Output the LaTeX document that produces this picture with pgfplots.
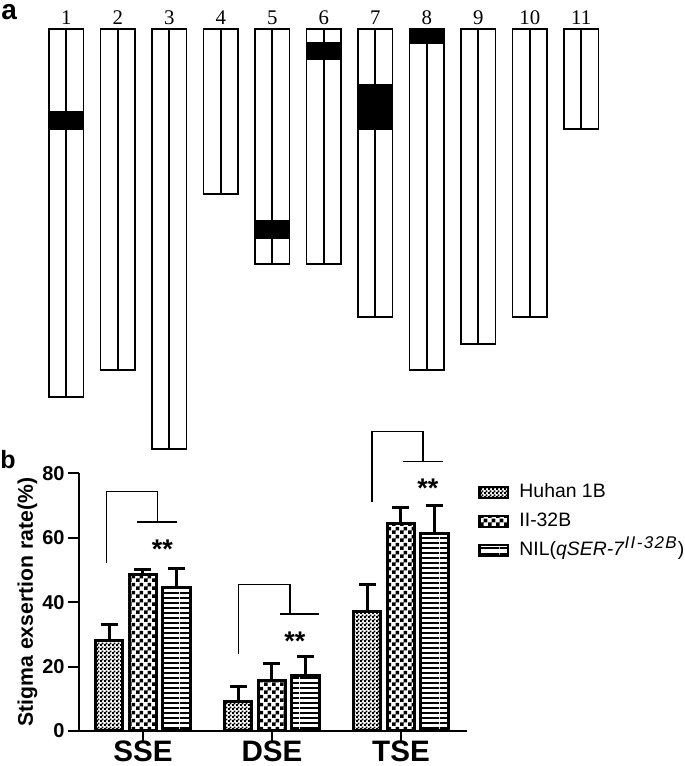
\documentclass[border=0pt]{standalone}
\usepackage{pgfplots}
\pgfplotsset{compat=1.18}
\usepackage{fontspec}
\setmainfont{Liberation Sans}
\newfontfamily\numfont{Liberation Serif}
\usetikzlibrary{patterns}

% bar fills
\pgfdeclarepatternformonly{finecheck}{\pgfpointorigin}{\pgfpoint{2pt}{2pt}}{\pgfpoint{2pt}{2pt}}{%
  \pgfpathrectangle{\pgfpointorigin}{\pgfpoint{1.1pt}{1.1pt}}%
  \pgfpathrectangle{\pgfpoint{1pt}{1pt}}{\pgfpoint{1.1pt}{1.1pt}}%
  \pgfusepath{fill}}
\pgfdeclarepatternformonly{bigcheck}{\pgfpointorigin}{\pgfpoint{4pt}{4pt}}{\pgfpoint{4pt}{4pt}}{%
  \pgfpathrectangle{\pgfpointorigin}{\pgfpoint{2pt}{2pt}}%
  \pgfpathrectangle{\pgfpoint{2pt}{2pt}}{\pgfpoint{2pt}{2pt}}%
  \pgfusepath{fill}}
\pgfdeclarepatternformonly{hlinesthick}{\pgfpointorigin}{\pgfpoint{10pt}{2.7pt}}{\pgfpoint{10pt}{2.7pt}}{%
  \pgfpathrectangle{\pgfpointorigin}{\pgfpoint{10pt}{1pt}}%
  \pgfusepath{fill}}

\pgfplotsset{
  chr/.style={draw=black, fill=white, line width=0.85pt},
  band/.style={draw=black, fill=black, line width=0.85pt},
  mid/.style={draw=black, line width=0.85pt},
  brk/.style={draw=black, line width=0.6pt, forget plot},
  sebar/.style={ybar, bar width=0.21, bar shift=0pt, draw=black, line width=1.5pt,
    error bars/y dir=plus, error bars/y explicit,
    error bars/error bar style={line width=1.5pt},
    error bars/error mark options={rotate=90, mark size=4.25pt, line width=1.5pt}},
}

\begin{document}
\begin{tikzpicture}
\useasboundingbox (0,0) rectangle (342.5pt,383pt);

% panel a: chromosomes, pixel coordinates from the top
\begin{axis}[at={(0pt,0pt)}, anchor=south west, scale only axis,
  width=342.5pt, height=383pt,
  xmin=0, xmax=685, ymin=0, ymax=766, y dir=reverse,
  hide axis, clip=false]
\addplot[chr] coordinates {(49,29) (83.5,29) (83.5,397) (49,397)} -- cycle;
\addplot[chr] coordinates {(100.5,29) (135,29) (135,370) (100.5,370)} -- cycle;
\addplot[chr] coordinates {(152,29) (186.5,29) (186.5,449) (152,449)} -- cycle;
\addplot[chr] coordinates {(203.5,29) (238,29) (238,194) (203.5,194)} -- cycle;
\addplot[chr] coordinates {(255,29) (289.5,29) (289.5,264) (255,264)} -- cycle;
\addplot[chr] coordinates {(306.5,29) (341,29) (341,264) (306.5,264)} -- cycle;
\addplot[chr] coordinates {(358,29) (392.5,29) (392.5,317) (358,317)} -- cycle;
\addplot[chr] coordinates {(409.5,29) (444,29) (444,370) (409.5,370)} -- cycle;
\addplot[chr] coordinates {(461,29) (495.5,29) (495.5,344) (461,344)} -- cycle;
\addplot[chr] coordinates {(512.5,29) (547,29) (547,317) (512.5,317)} -- cycle;
\addplot[chr] coordinates {(564,29) (598.5,29) (598.5,129) (564,129)} -- cycle;
% centre lines
\addplot[mid] coordinates {(66.25,29) (66.25,397)};
\addplot[mid, line width=1.2pt] coordinates {(117.75,29) (117.75,370)};
\addplot[mid] coordinates {(169.25,29) (169.25,449)};
\addplot[mid] coordinates {(220.75,29) (220.75,194)};
\addplot[mid] coordinates {(272.25,29) (272.25,264)};
\addplot[mid] coordinates {(323.75,29) (323.75,264)};
\addplot[mid] coordinates {(375.25,29) (375.25,317)};
\addplot[mid] coordinates {(426.75,29) (426.75,370)};
\addplot[mid] coordinates {(478.25,29) (478.25,344)};
\addplot[mid] coordinates {(529.75,29) (529.75,317)};
\addplot[mid] coordinates {(581.25,29) (581.25,129)};
% introgressed segments
\addplot[band] coordinates {(49,112) (83.5,112) (83.5,129) (49,129)} -- cycle;
\addplot[band] coordinates {(255,221) (289.5,221) (289.5,238) (255,238)} -- cycle;
\addplot[band] coordinates {(306.5,43) (341,43) (341,59) (306.5,59)} -- cycle;
\addplot[band] coordinates {(358,85) (392.5,85) (392.5,129) (358,129)} -- cycle;
\addplot[band] coordinates {(409.5,29) (444,29) (444,43) (409.5,43)} -- cycle;

\begin{scope}[every node/.style={anchor=base, inner sep=0pt, font=\numfont\fontsize{10.4}{12}\selectfont}]
\node at (axis cs:66.25,25) {1};
\node at (axis cs:117.75,25) {2};
\node at (axis cs:169.25,25) {3};
\node at (axis cs:220.75,25) {4};
\node at (axis cs:272.25,25) {5};
\node at (axis cs:323.75,25) {6};
\node at (axis cs:375.25,25) {7};
\node at (axis cs:426.75,25) {8};
\node at (axis cs:478.25,25) {9};
\node at (axis cs:529.75,25) {10};
\node at (axis cs:581.25,25) {11};
\end{scope}
\node[anchor=base west, inner sep=0pt, font=\bfseries\fontsize{14}{14}\selectfont] at (axis cs:1,20) {a};
\node[anchor=base west, inner sep=0pt, font=\bfseries\fontsize{12.5}{14}\selectfont] at (axis cs:0,468) {b};
\end{axis}

% panel b: bar chart
\begin{axis}[at={(39.5pt,17.5pt)}, anchor=south west, scale only axis,
  width=194pt, height=128.85pt,
  xmin=-0.496, xmax=2.512, ymin=0, ymax=80,
  axis lines=left, axis line style={-, line width=1pt},
  clip=false,
  xtick={0,1,2}, xticklabels={SSE,DSE,TSE},
  ytick={0,20,40,60,80},
  tick align=outside, major tick length=5.5pt,
  tick style={black, line width=1pt},
  /pgf/number format/assume math mode=true,
  yticklabel style={font=\bfseries\fontsize{10}{12}\selectfont, inner sep=1.5pt},
  xticklabel style={font=\bfseries\fontsize{14.8}{17}\selectfont, inner sep=0pt, yshift=0.6pt},
  ylabel={Stigma exsertion rate(\%)},
  every axis y label/.style={at={(axis description cs:-0.1327,0.5)}, rotate=90, anchor=center,
    font=\bfseries\fontsize{10.6}{12}\selectfont},
  legend style={at={(axis description cs:1.028,0.962)}, anchor=north west,
    draw=none, fill=none, inner sep=0pt, row sep=5.5pt,
    font=\fontsize{9.7}{11}\selectfont,
    nodes={inner sep=0pt, text height=7pt, text depth=2pt},
    /tikz/every odd column/.append style={column sep=5pt}},
  legend cell align=left,
  legend image code/.code={\draw[#1, line width=1.4pt] (0pt,-2.75pt) rectangle (14.2pt,2.75pt);},
]
\addplot[sebar, pattern=finecheck] coordinates {(-0.26,28.1) +- (0,5.1) (0.74,9.2) +- (0,4.6) (1.74,37.2) +- (0,8.2)};
\addlegendentry{Huhan 1B}
\addplot[sebar, pattern=bigcheck] coordinates {(0,48.6) +- (0,1.5) (1,15.8) +- (0,5.3) (2,64.5) +- (0,4.8)};
\addlegendentry{II-32B}
\addplot[sebar, pattern=hlinesthick] coordinates {(0.26,44.4) +- (0,6.1) (1.26,17.2) +- (0,5.8) (2.26,61.4) +- (0,8.6)};
\addlegendentry{NIL(\textit{qSER-7}\textsuperscript{\fontsize{8.5}{9}\selectfont\itshape\addfontfeature{LetterSpace=8}II-32B})}

% significance brackets
\addplot[brk] coordinates {(-0.281,52.2) (-0.281,74.3) (0.114,74.3) (0.114,64.9)};
\addplot[brk] coordinates {(-0.047,64.9) (0.264,64.9)};
\addplot[brk] coordinates {(0.742,23.9) (0.742,45.6) (1.140,45.6) (1.140,36.3)};
\addplot[brk] coordinates {(1.062,36.3) (1.364,36.3)};
\addplot[brk] coordinates {(1.775,71.2) (1.775,93.1) (2.171,93.1) (2.171,83.6)};
\addplot[brk] coordinates {(2.016,83.6) (2.326,83.6)};
\begin{scope}[every node/.style={anchor=base, inner sep=0pt, font=\bfseries\fontsize{13.5}{14}\selectfont}]
\node at (axis cs:0.151,53.5) {**};
\node at (axis cs:1.178,24.9) {**};
\node at (axis cs:2.209,72.4) {**};
\end{scope}
\end{axis}
\end{tikzpicture}
\end{document}
